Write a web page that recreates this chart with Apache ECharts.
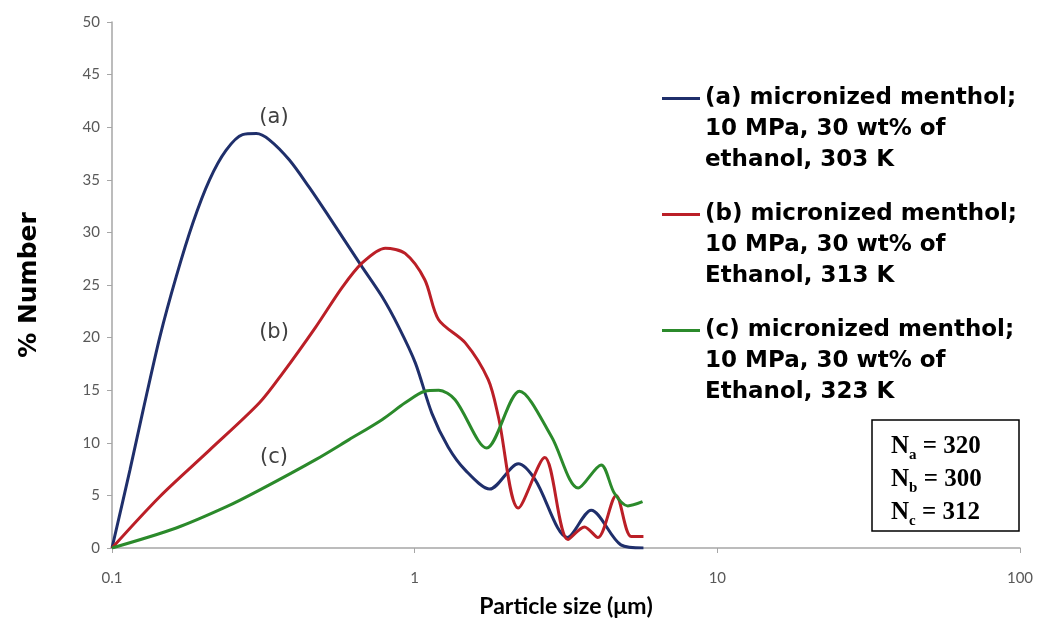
<!DOCTYPE html>
<html>
<head>
<meta charset="utf-8">
<script src="https://cdn.jsdelivr.net/npm/echarts@6/dist/echarts.min.js"></script>
<style>
  html, body { margin: 0; padding: 0; background: #fff; }
  #chart { width: 1037px; height: 626px; }
</style>
</head>
<body>
<div id="chart"></div>
<script>
// particle size (µm) / % number
const sizeA = [0.1, 0.1146, 0.1267, 0.144, 0.163, 0.185, 0.21, 0.238, 0.27, 0.3, 0.331, 0.385, 0.448, 0.521, 0.607, 0.671, 0.78, 0.886, 1.005, 1.14, 1.29, 1.47, 1.77, 2.2, 2.5, 3.2, 3.83, 4.8, 5.7]
const numA  = [0, 7.4, 13.1, 20.1, 25.8, 30.9, 35.0, 37.8, 39.3, 39.4, 38.8, 36.9, 34.3, 31.5, 28.6, 26.7, 23.9, 21.0, 17.6, 12.8, 9.6, 7.4, 5.6, 8.0, 6.5, 1.0, 3.6, 0.3, 0]

const sizeB = [0.1, 0.144, 0.21, 0.307, 0.366, 0.471, 0.577, 0.671, 0.8, 0.93, 1.08, 1.2, 1.47, 1.75, 1.89, 2.2, 2.69, 3.21, 3.64, 4.03, 4.63, 5.19, 5.7]
const numB  = [0, 4.9, 9.3, 13.8, 16.6, 21.0, 24.8, 27.1, 28.5, 28.0, 25.5, 21.7, 19.5, 16.0, 12.5, 3.8, 8.6, 0.8, 2.0, 1.0, 5.0, 1.1, 1.1]

const sizeC = [0.1, 0.163, 0.238, 0.307, 0.471, 0.607, 0.78, 0.93, 1.08, 1.2, 1.36, 1.73, 2.22, 2.83, 3.47, 4.13, 4.57, 5.06, 5.66]
const numC  = [0, 1.9, 3.9, 5.5, 8.4, 10.3, 12.2, 13.8, 14.9, 15.0, 14.1, 9.5, 14.9, 10.6, 5.7, 7.9, 5.2, 4.0, 4.4]

const seriesNames = [
  '(a) micronized menthol;\n10 MPa, 30 wt% of\nethanol, 303 K',
  '(b) micronized menthol;\n10 MPa, 30 wt% of\nEthanol, 313 K',
  '(c) micronized menthol;\n10 MPa, 30 wt% of\nEthanol, 323 K'
]
const curveTags = ['(a)', '(b)', '(c)']
const counts = [['a', 320], ['b', 300], ['c', 312]]
const colors = ['#1f2f6b', '#bb1f27', '#2b8a2b']

const pairs = (xs, ys) => xs.map((x, i) => [x, ys[i]])
const allData = [pairs(sizeA, numA), pairs(sizeB, numB), pairs(sizeC, numC)]

const chart = echarts.init(document.getElementById('chart'))

const axisGray = '#a6a6a6'
const labelFont = 'Lato, "Open Sans", sans-serif'

const option = {
  backgroundColor: '#fff',
  animation: false,
  grid: { left: 112, right: 17, top: 22, bottom: 78 },
  legend: {
    orient: 'vertical',
    left: 662,
    top: 21,
    padding: 0,
    itemGap: -39,
    itemWidth: 38,
    itemHeight: 3,
    icon: 'rect',
    data: seriesNames,
    // two blank lines on top so the first text line sits level with the icon
    formatter: name => '\n\n' + name,
    textStyle: {
      fontFamily: '"DejaVu Sans", Verdana, sans-serif',
      fontWeight: 'bold',
      fontSize: 23,
      lineHeight: 31,
      color: '#000'
    }
  },
  xAxis: {
    type: 'log',
    logBase: 10,
    min: 0.1,
    max: 100,
    name: 'Particle size (μm)',
    nameLocation: 'middle',
    nameGap: 47,
    nameTextStyle: { fontFamily: labelFont, fontWeight: 'bold', fontSize: 23, color: '#000' },
    axisLine: { lineStyle: { color: axisGray, width: 1.5 } },
    axisTick: { show: true, length: 5, lineStyle: { color: axisGray } },
    minorTick: { show: false },
    splitLine: { show: false },
    axisLabel: {
      margin: 23,
      fontFamily: labelFont,
      fontSize: 15,
      color: '#595959',
      formatter: v => String(+v.toPrecision(3))
    }
  },
  yAxis: {
    type: 'value',
    min: 0,
    max: 50,
    interval: 5,
    name: '% Number',
    nameLocation: 'middle',
    nameGap: 70,
    nameTextStyle: { fontFamily: '"DejaVu Sans", Verdana, sans-serif', fontWeight: 'bold', fontSize: 25, color: '#000' },
    axisLine: { show: true, lineStyle: { color: axisGray, width: 1.5 } },
    axisTick: { show: true, length: 5, lineStyle: { color: axisGray } },
    splitLine: { show: false },
    axisLabel: { margin: 12, fontFamily: labelFont, fontSize: 15, color: '#595959' }
  },
  series: seriesNames.map((name, i) => ({
    name,
    type: 'line',
    smooth: 0.3,
    showSymbol: false,
    symbol: 'none',
    data: allData[i],
    lineStyle: { color: colors[i], width: 3 },
    itemStyle: { color: colors[i] }
  })),
  graphic: [
    ...curveTags.map((t, i) => ({
      type: 'text',
      x: 274,
      y: [118, 333, 458][i],
      style: {
        text: t,
        font: '21px "DejaVu Sans", sans-serif',
        fill: '#404040',
        align: 'center',
        verticalAlign: 'middle'
      }
    })),
    {
      type: 'rect',
      shape: { x: 872, y: 420, width: 147, height: 111 },
      style: { fill: '#fff', stroke: '#000', lineWidth: 1.5 }
    },
    {
      type: 'text',
      x: 891,
      y: 430,
      style: {
        text: counts.map(([k, n]) => `{n|N}{s|${k}}{n| = ${n}}`).join('\n'),
        rich: {
          n: { font: 'bold 25px "Liberation Serif", "Times New Roman", serif', fill: '#000', lineHeight: 33 },
          s: { font: 'bold 15px "Liberation Serif", "Times New Roman", serif', fill: '#000', lineHeight: 20, verticalAlign: 'bottom' }
        }
      }
    }
  ]
}

chart.setOption(option)
</script>
</body>
</html>
